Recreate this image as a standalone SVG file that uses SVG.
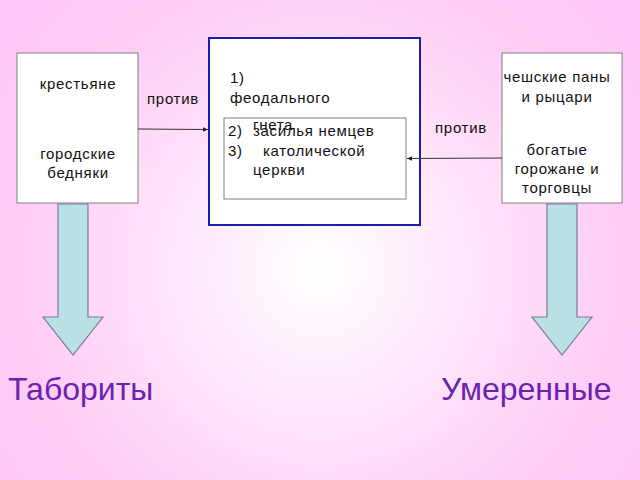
<svg xmlns="http://www.w3.org/2000/svg" width="640" height="480" viewBox="0 0 640 480">
<defs>
<radialGradient id="bg" cx="320" cy="270" r="400" gradientUnits="userSpaceOnUse">
<stop offset="0" stop-color="#ffffff"/>
<stop offset="0.75" stop-color="#ffccf6"/>
<stop offset="1" stop-color="#ffc8f4"/>
</radialGradient>
<marker id="ah" markerWidth="6" markerHeight="6" refX="5" refY="3" orient="auto" markerUnits="userSpaceOnUse">
<path d="M0,0.8 L5,3 L0,5.2 Z" fill="#222"/>
</marker>
<style>
.box{fill:#fff;stroke:#808080;stroke-width:1}
.t{font-family:"Liberation Sans",Arial,sans-serif;font-size:15px;letter-spacing:0.7px;fill:#111}
.big{font-family:"Liberation Sans",Arial,sans-serif;font-size:32px;fill:#6a22b0}
.arr{fill:#b9e0e2;stroke:#7a7a9e;stroke-width:1.2}
.con{stroke:#333;stroke-width:1;fill:none;marker-end:url(#ah)}
</style>
</defs>
<rect width="640" height="480" fill="url(#bg)"/>
<g id="left">
<rect class="box" x="17" y="53" width="121" height="150"/>
<text class="t" x="78" y="89" text-anchor="middle">крестьяне</text>
<text class="t" x="78" y="159" text-anchor="middle">городские</text>
<text class="t" x="78" y="178" text-anchor="middle">бедняки</text>
</g>
<g id="center">
<rect x="209" y="38" width="211" height="187" fill="#fff" stroke="#1c1cb0" stroke-width="2"/>
<rect class="box" x="224" y="118" width="182" height="81" fill="none"/>
<text class="t" x="230" y="83">1)</text>
<text class="t" x="230" y="103">феодального</text>
<text class="t" x="253" y="130">гнета</text>
<text class="t" x="228" y="136">2)</text>
<text class="t" x="253" y="136">засилья немцев</text>
<text class="t" x="228" y="156">3)</text>
<text class="t" x="263" y="156">католической</text>
<text class="t" x="253" y="175">церкви</text>
</g>
<g id="right">
<rect class="box" x="502" y="53" width="120" height="150"/>
<text class="t" x="557" y="82" text-anchor="middle">чешские паны</text>
<text class="t" x="557" y="102" text-anchor="middle">и рыцари</text>
<text class="t" x="557" y="155" text-anchor="middle">богатые</text>
<text class="t" x="557" y="174" text-anchor="middle">горожане и</text>
<text class="t" x="557" y="193" text-anchor="middle">торговцы</text>
</g>
<g id="connectors">
<line class="con" x1="138" y1="129" x2="208" y2="129.5"/>
<line class="con" x1="502" y1="158" x2="407" y2="158.5"/>
<text class="t" x="173" y="104" text-anchor="middle">против</text>
<text class="t" x="461" y="133" text-anchor="middle">против</text>
<path class="arr" d="M58,204 L88,204 L88,317 L103,317 L73,355 L43,317 L58,317 Z"/>
<path class="arr" d="M547,204 L577,204 L577,317 L592,317 L562,355 L532,317 L547,317 Z"/>
</g>
<g id="taborites">
<text class="big" x="8" y="400">Табориты</text>
</g>
<g id="moderates">
<text class="big" x="441" y="400">Умеренные</text>
</g>
</svg>
